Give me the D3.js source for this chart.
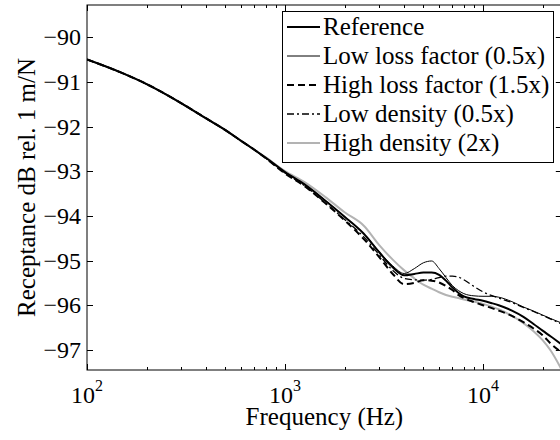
<!DOCTYPE html>
<html>
<head>
<meta charset="utf-8">
<script src="https://cdn.jsdelivr.net/npm/d3@7"></script>
<style>
  body { margin: 0; background: #fff; }
  text { font-family: "Liberation Serif", "Times New Roman", Times, serif; }
</style>
</head>
<body>
<script>
// Frequencies (Hz) shared by every curve
var freq = [100, 150, 200, 300, 400, 500, 600, 700, 800, 1000, 1250, 1600, 2000, 2500, 3000, 3500,
  4000, 4500, 5000, 5500, 6000, 6500, 7000, 7500, 8000, 9000, 10000, 11000, 12000, 14000,
  16000, 18000, 20000, 22000, 25000];

// Receptance values (dB rel. 1 m/N)
var reference = [-90.50, -90.80, -91.05, -91.48, -91.82, -92.08, -92.32, -92.52, -92.70, -93.02,
  -93.29, -93.66, -94.02, -94.40, -94.82, -95.15, -95.33, -95.30, -95.27, -95.27, -95.32, -95.45,
  -95.60, -95.72, -95.80, -95.86, -95.90, -95.95, -96.00, -96.12, -96.26, -96.42, -96.57, -96.70, -96.88];

var lowLoss = [-90.50, -90.80, -91.05, -91.48, -91.82, -92.08, -92.32, -92.52, -92.70, -93.02,
  -93.29, -93.66, -94.02, -94.40, -94.81, -95.12, -95.29, -95.18, -95.05, -95.01, -95.18, -95.38,
  -95.56, -95.67, -95.74, -95.79, -95.80, -95.80, -95.82, -95.92, -96.04, -96.13, -96.22, -96.30, -96.40];

var highLoss = [-90.50, -90.80, -91.05, -91.48, -91.82, -92.08, -92.32, -92.52, -92.71, -93.05,
  -93.33, -93.72, -94.10, -94.52, -94.93, -95.30, -95.53, -95.50, -95.44, -95.45, -95.49, -95.57,
  -95.66, -95.77, -95.84, -95.93, -96.00, -96.06, -96.12, -96.24, -96.38, -96.52, -96.67, -96.86, -97.06];

var lowDensity = [-90.50, -90.80, -91.05, -91.48, -91.82, -92.08, -92.32, -92.52, -92.71, -93.04,
  -93.32, -93.71, -94.08, -94.47, -94.88, -95.22, -95.40, -95.43, -95.44, -95.42, -95.38, -95.35,
  -95.35, -95.37, -95.43, -95.58, -95.70, -95.78, -95.84, -95.94, -96.05, -96.14, -96.23, -96.31, -96.42];

var highDensity = [-90.50, -90.80, -91.05, -91.48, -91.82, -92.08, -92.32, -92.52, -92.69, -93.00,
  -93.24, -93.58, -93.92, -94.22, -94.66, -94.98, -95.22, -95.40, -95.54, -95.63, -95.71, -95.77,
  -95.81, -95.84, -95.87, -95.92, -95.97, -96.03, -96.09, -96.24, -96.40, -96.58, -96.78, -97.02, -97.45];

var seriesNames = ["Reference", "Low loss factor (0.5x)", "High loss factor (1.5x)",
  "Low density (0.5x)", "High density (2x)"];
var yTicks = [-97, -96, -95, -94, -93, -92, -91, -90];
var xMajor = [100, 1000, 10000];
var xExp = ["2", "3", "4"];

var W = 560, H = 440;
var pLeft = 87, pTop = 5, pBottom = 370, pRight = 561.8;
var serif = "'Liberation Serif', 'Times New Roman', Times, serif";

var svg = d3.select("body").append("svg").attr("width", W).attr("height", H);

var x = d3.scaleLog().domain([100, 25000]).range([pLeft, pRight]);
var y = d3.scaleLinear().domain([-97.45, -89.28]).range([pBottom, pTop]);

svg.append("clipPath").attr("id", "plot")
  .append("rect").attr("x", pLeft).attr("y", pTop)
  .attr("width", pRight - pLeft).attr("height", pBottom - pTop);

// Line styles per series
var styles = [
  { color: "#000", width: 2, dash: null },
  { color: "#000", width: 1, dash: null },
  { color: "#000", width: 2, dash: "7,4" },
  { color: "#000", width: 1.3, dash: "7,3,2,3" },
  { color: "#b3b3b3", width: 2, dash: null }
];
var allSeries = [reference, lowLoss, highLoss, lowDensity, highDensity];

var line = d3.line()
  .x(function (d, i) { return x(freq[i]); })
  .y(function (d) { return y(d); })
  .curve(d3.curveMonotoneX);

// Draw order: high density under the black curves
var order = [4, 3, 2, 1, 0];
var plot = svg.append("g").attr("clip-path", "url(#plot)");
order.forEach(function (k) {
  plot.append("path")
    .attr("d", line(allSeries[k]))
    .attr("fill", "none")
    .attr("stroke", styles[k].color)
    .attr("stroke-width", styles[k].width)
    .attr("stroke-dasharray", styles[k].dash);
});

// Minor ticks list for the log axis
var xMinor = [];
[100, 1000, 10000].forEach(function (dec) {
  for (var m = 2; m <= 9; m++) {
    if (dec * m <= 25000) xMinor.push(dec * m);
  }
});

var axes = svg.append("g").attr("stroke", "#000").attr("stroke-width", 1);

// Box
axes.append("rect")
  .attr("x", pLeft).attr("y", pTop)
  .attr("width", pRight - pLeft).attr("height", pBottom - pTop)
  .attr("fill", "none");

// X ticks, inward on bottom and top
xMajor.concat(xMinor).forEach(function (f) {
  var len = xMajor.indexOf(f) >= 0 ? 6 : 3;
  var px = Math.round(x(f)) + 0.5;
  axes.append("line").attr("x1", px).attr("x2", px).attr("y1", pBottom).attr("y2", pBottom - len);
  axes.append("line").attr("x1", px).attr("x2", px).attr("y1", pTop).attr("y2", pTop + len);
});

// Y ticks, inward on left and right
yTicks.forEach(function (v) {
  var py = Math.round(y(v)) + 0.5;
  axes.append("line").attr("x1", pLeft).attr("x2", pLeft + 6).attr("y1", py).attr("y2", py);
  axes.append("line").attr("x1", pRight).attr("x2", pRight - 6).attr("y1", py).attr("y2", py);
});

// Y tick labels
svg.selectAll(".ylab").data(yTicks).enter().append("text")
  .attr("x", 81)
  .attr("y", function (d) { return y(d) + 8; })
  .attr("text-anchor", "end")
  .attr("font-family", serif)
  .attr("font-size", 24)
  .text(function (d) { return "\u2212" + Math.abs(d); });

// X tick labels with superscript exponents
xMajor.forEach(function (f, i) {
  var t = svg.append("text")
    .attr("x", x(f))
    .attr("y", 403)
    .attr("text-anchor", "middle")
    .attr("font-family", serif)
    .attr("font-size", 24);
  t.append("tspan").text("10");
  t.append("tspan").attr("font-size", 16).attr("dy", -12).text(xExp[i]);
});

// Axis titles
svg.append("text")
  .attr("x", (pLeft + pRight) / 2)
  .attr("y", 425)
  .attr("text-anchor", "middle")
  .attr("font-family", serif)
  .attr("font-size", 25)
  .text("Frequency (Hz)");

svg.append("text")
  .attr("transform", "translate(35," + (pTop + pBottom) / 2 + ") rotate(-90)")
  .attr("text-anchor", "middle")
  .attr("font-family", serif)
  .attr("font-size", 25)
  .text("Receptance dB rel. 1 m/N");

// Legend
var legend = svg.append("g");
legend.append("rect")
  .attr("x", 282.5).attr("y", 11.5)
  .attr("width", 271).attr("height", 151)
  .attr("fill", "#fff").attr("stroke", "#000").attr("stroke-width", 1);

seriesNames.forEach(function (name, i) {
  var cy = 27 + i * 29;
  legend.append("line")
    .attr("x1", 287).attr("x2", 320)
    .attr("y1", cy).attr("y2", cy)
    .attr("stroke", styles[i].color)
    .attr("stroke-width", styles[i].width)
    .attr("stroke-dasharray", styles[i].dash);
  legend.append("text")
    .attr("x", 323)
    .attr("y", cy + 8)
    .attr("font-family", serif)
    .attr("font-size", 25)
    .text(name);
});
</script>
</body>
</html>
